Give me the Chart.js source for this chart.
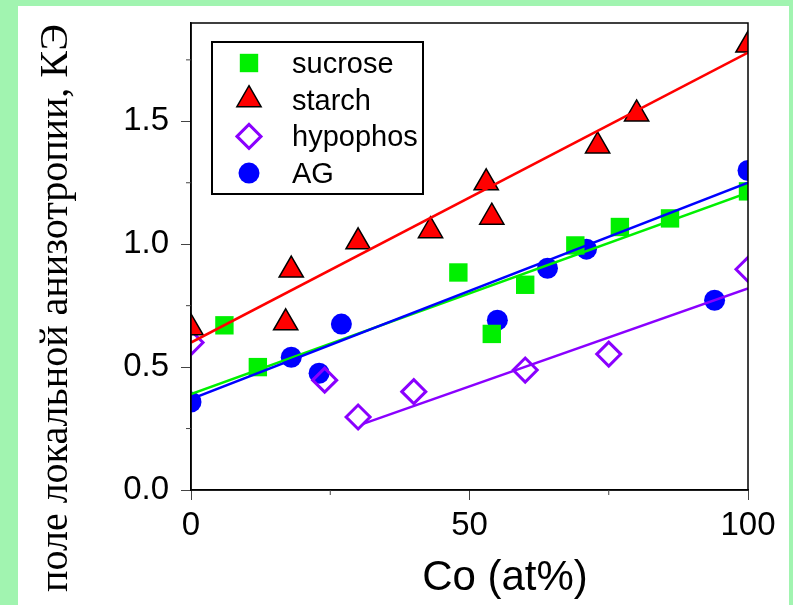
<!DOCTYPE html>
<html>
<head>
<meta charset="utf-8">
<script src="https://cdn.jsdelivr.net/npm/chart.js@4/dist/chart.umd.min.js"></script>
<style>
  html, body { margin: 0; padding: 0; background: #a1f4b0; }
  #panel { position: absolute; left: 18px; top: 6px; width: 771px; height: 599px; background: #fff; }
  #wrap { position: absolute; left: 0; top: 0; width: 793px; height: 605px; }
</style>
</head>
<body>
<div id="panel"></div>
<div id="wrap"><canvas id="chart"></canvas></div>
<script>
// --- data ---
const sucroseX = [6, 12, 48, 54, 60, 69, 77, 86, 100];
const sucroseY = [0.67, 0.50, 0.885, 0.635, 0.835, 0.995, 1.07, 1.105, 1.215];

const starchX = [0, 17, 18, 30, 43, 53, 54, 73, 80, 100];
const starchY = [0.66, 0.68, 0.895, 1.01, 1.055, 1.25, 1.11, 1.40, 1.53, 1.81];

const hypophosX = [0, 24, 30, 40, 60, 75, 100];
const hypophosY = [0.60, 0.447, 0.297, 0.40, 0.488, 0.553, 0.898];

const agX = [0, 18, 23, 27, 55, 64, 71, 94, 100];
const agY = [0.358, 0.54, 0.475, 0.675, 0.691, 0.902, 0.98, 0.772, 1.30];

// fitted lines (end points)
const sucroseFitX = [0, 100];
const sucroseFitY = [0.39, 1.21];
const starchFitX = [0, 100];
const starchFitY = [0.60, 1.78];
const hypophosFitX = [31, 100];
const hypophosFitY = [0.27, 0.82];
const agFitX = [0, 100];
const agFitY = [0.37, 1.25];

const xTicks = [0, 50, 100];
const yTicks = [0, 0.5, 1.0, 1.5];

const xTitle = 'Co (at%)';
const yTitle = 'поле локальной анизотропии, КЭ';

const pts = (xs, ys) => xs.map((x, i) => ({ x: x, y: ys[i] }));

function fitLine(xs, ys, color) {
    return {
        data: pts(xs, ys),
        showLine: true,
        borderColor: color,
        borderWidth: 2.5,
        pointRadius: 0,
        fill: false,
        isFit: true,
        clip: 0
    };
}

// --- frame, minor ticks, axis titles and boxed legend ---
const extrasPlugin = {
    id: 'extras',
    afterDraw(chart) {
        const ctx = chart.ctx;
        const a = chart.chartArea;
        const xs = chart.scales.x, ys = chart.scales.y;
        ctx.save();

        // box around the plot
        ctx.strokeStyle = '#000';
        ctx.lineWidth = 1.5;
        ctx.strokeRect(a.left, a.top, a.right - a.left, a.bottom - a.top);

        // minor ticks halfway between majors
        ctx.strokeStyle = '#444';
        ctx.lineWidth = 1;
        ctx.beginPath();
        for (let i = 0; i < xTicks.length - 1; i++) {
            const px = xs.getPixelForValue((xTicks[i] + xTicks[i + 1]) / 2);
            ctx.moveTo(px, a.bottom);
            ctx.lineTo(px, a.bottom + 5);
        }
        for (let i = 0; i < yTicks.length; i++) {
            const v = yTicks[i] + 0.25;
            if (v > ys.max) break;
            const py = ys.getPixelForValue(v);
            ctx.moveTo(a.left, py);
            ctx.lineTo(a.left - 5, py);
        }
        ctx.stroke();

        // axis titles
        ctx.fillStyle = '#000';
        ctx.font = '42px "Liberation Sans", Arial, sans-serif';
        ctx.textAlign = 'center';
        ctx.textBaseline = 'middle';
        ctx.fillText(xTitle, 505, 578);

        ctx.save();
        ctx.translate(56, 308);
        ctx.rotate(-Math.PI / 2);
        ctx.font = '40px "Liberation Serif", "Times New Roman", serif';
        ctx.fillText(yTitle, 0, 0);
        ctx.restore();

        // legend
        ctx.strokeStyle = '#000';
        ctx.lineWidth = 2;
        ctx.strokeRect(212, 42, 211, 152);
        const series = chart.data.datasets.filter(d => !d.isFit);
        ctx.font = '29px "Liberation Sans", Arial, sans-serif';
        ctx.textAlign = 'left';
        ctx.textBaseline = 'alphabetic';
        series.forEach((d, i) => {
            const cy = 63 + i * 36.7;
            ctx.fillStyle = d.backgroundColor;
            ctx.strokeStyle = d.borderColor;
            ctx.lineWidth = d.borderWidth;
            Chart.helpers.drawPoint(ctx, {
                pointStyle: d.pointStyle,
                radius: d.pointRadius,
                borderWidth: d.borderWidth,
                rotation: 0
            }, 249, cy);
            ctx.fillStyle = '#000';
            ctx.fillText(d.label, 292, cy + 10);
        });

        ctx.restore();
    }
};

new Chart(document.getElementById('chart'), {
    type: 'scatter',
    data: {
        datasets: [
            fitLine(agFitX, agFitY, '#0000ff'),
            fitLine(sucroseFitX, sucroseFitY, '#00f000'),
            fitLine(starchFitX, starchFitY, '#ff0000'),
            fitLine(hypophosFitX, hypophosFitY, '#8a00ff'),
            {
                label: 'sucrose',
                data: pts(sucroseX, sucroseY),
                pointStyle: 'rect',
                pointRadius: 13,
                backgroundColor: '#00f000',
                borderColor: '#00f000',
                borderWidth: 0,
                clip: 0
            },
            {
                label: 'starch',
                data: pts(starchX, starchY),
                pointStyle: 'triangle',
                pointRadius: 14,
                backgroundColor: '#ff0000',
                borderColor: '#000',
                borderWidth: 1.5,
                clip: 0
            },
            {
                label: 'hypophos',
                data: pts(hypophosX, hypophosY),
                pointStyle: 'rectRot',
                pointRadius: 12,
                backgroundColor: 'rgba(255,255,255,0)',
                borderColor: '#8a00ff',
                borderWidth: 3,
                clip: 0
            },
            {
                label: 'AG',
                data: pts(agX, agY),
                pointStyle: 'circle',
                pointRadius: 10.5,
                backgroundColor: '#0000ff',
                borderColor: '#0000ff',
                borderWidth: 0,
                clip: 0
            }
        ]
    },
    options: {
        responsive: true,
        maintainAspectRatio: false,
        animation: false,
        events: [],
        layout: { padding: { top: 23, right: 45, left: 0, bottom: 0 } },
        plugins: {
            legend: { display: false },
            tooltip: { enabled: false }
        },
        scales: {
            x: {
                type: 'linear',
                min: 0,
                max: 100,
                afterFit: s => { s.height = 115; s.paddingLeft = 0; s.paddingRight = 0; },
                afterBuildTicks: s => { s.ticks = xTicks.map(v => ({ value: v })); },
                ticks: {
                    color: '#000',
                    padding: 6,
                    font: { family: '"Liberation Sans", Arial, sans-serif', size: 33 },
                    maxRotation: 0,
                    callback: v => String(v)
                },
                grid: { drawOnChartArea: false, tickLength: 10, color: '#444', tickWidth: 1 },
                border: { color: '#000', width: 1.5 }
            },
            y: {
                type: 'linear',
                min: 0,
                max: 1.9,
                afterFit: s => { s.width = 191; s.paddingTop = 0; s.paddingBottom = 0; },
                afterBuildTicks: s => { s.ticks = yTicks.map(v => ({ value: v })); },
                ticks: {
                    color: '#000',
                    padding: 12,
                    font: { family: '"Liberation Sans", Arial, sans-serif', size: 33 },
                    callback: v => v.toFixed(1)
                },
                grid: { drawOnChartArea: false, tickLength: 10, color: '#444', tickWidth: 1 },
                border: { color: '#000', width: 1.5 }
            }
        }
    },
    plugins: [extrasPlugin]
});
</script>
</body>
</html>
